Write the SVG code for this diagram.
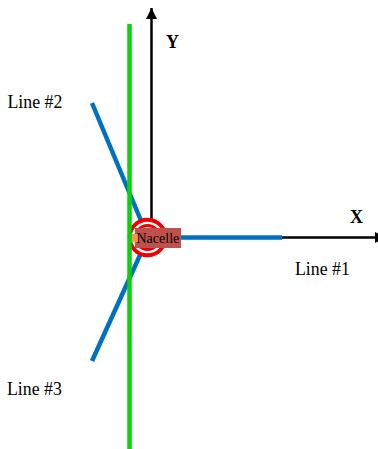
<svg xmlns="http://www.w3.org/2000/svg" width="378" height="449" viewBox="0 0 378 449">
<style>
text{font-family:"Liberation Serif","Times New Roman",serif;fill:#000}
.lbl{font-size:17.800px}
.ax{font-size:18px;font-weight:bold}
.blue{stroke:#0070c0;stroke-width:4.500;fill:none}
.axis{stroke:#000;stroke-width:2.500;fill:none}
</style>
<defs>
<marker id="ah" markerUnits="userSpaceOnUse" markerWidth="12" markerHeight="12" refX="11" refY="6" orient="auto"><path d="M0,0.5L11,6L0,11.5Z" fill="#000"/></marker>
</defs>
<rect width="378" height="449" fill="#fff"/>
<g id="connectors">
<line class="axis" x1="151.500" y1="238" x2="151.500" y2="8" marker-end="url(#ah)"/>
<line class="axis" x1="148" y1="237.500" x2="386" y2="237.500" marker-end="url(#ah)"/>
<line class="blue" x1="148" y1="237.500" x2="282" y2="237.500"/>
<line class="blue" x1="148" y1="237.500" x2="92" y2="103"/>
<line class="blue" x1="148" y1="237.500" x2="92" y2="361"/>
</g>
<g id="nacelle">
<circle cx="147.500" cy="237.500" r="17.800" fill="#fff" stroke="#f00000" stroke-width="4"/>
<circle cx="147.500" cy="237.500" r="12" fill="none" stroke="#f00000" stroke-width="3"/>
<rect x="135" y="228" width="46" height="20" fill="#c0504d"/>
<rect x="131" y="234" width="7" height="8" fill="#f79646"/>
<text x="136.500" y="243" font-size="14">Nacelle</text>
</g>
<g id="mast">
<line x1="129.500" y1="24" x2="129.500" y2="449" stroke="#0cd00c" stroke-width="4.500"/>
</g>
<g id="labels">
<text class="lbl" x="7.500" y="107.500">Line #2</text>
<text class="lbl" x="295" y="274.500">Line #1</text>
<text class="lbl" x="7" y="394.500">Line #3</text>
<text class="ax" x="166" y="48">Y</text>
<text class="ax" x="350" y="223">X</text>
</g>
</svg>
